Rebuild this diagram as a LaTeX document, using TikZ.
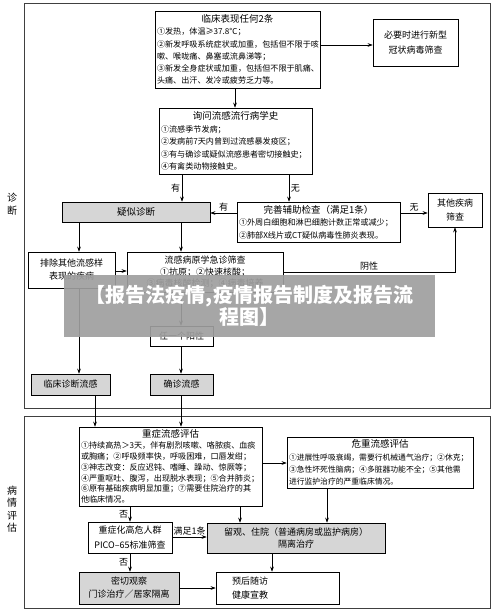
\documentclass[tikz,border=0pt]{standalone}
\usepackage{fontspec}
\setmainfont{Noto Sans CJK SC}
\usepackage{tikz}
\usetikzlibrary{arrows.meta}

\newcommand{\headline}[1]{{\fontsize{9.5}{12.3}\selectfont\hfill #1\hfill\null}\\}

\tikzset{
	box/.style={draw, inner sep=1.5pt, align=center, font=\fontsize{9}{12.5}\selectfont},
	greybox/.style={box, fill=black!16},
	listbox/.style={draw, inner xsep=2pt, inner ysep=0pt, align=left, font=\fontsize{8.1}{12.3}\selectfont},
	lbl/.style={inner sep=1.5pt, font=\fontsize{9}{10}\selectfont},
	side/.style={align=center, font=\fontsize{10}{12.5}\selectfont},
	frame/.style={draw=black!75, line width=0.8pt},
	banner/.style={fill=black!38, fill opacity=0.92, text=white, text opacity=1, align=center,
		minimum width=371pt, minimum height=62pt, font=\bfseries\fontsize{20}{22}\selectfont},
}

\begin{document}
\begin{tikzpicture}[x=1pt, y=-1pt, line width=0.6pt, >={Stealth[length=5pt,width=3.6pt]}]
	\useasboundingbox (0,0) rectangle (500,612);
	\draw[frame] (24,3) rectangle (490,408);
	\draw[frame] (24,416) rectangle (490,608);
	\node[side] at (12,204) (diag) {诊\\断};
	\node[side] at (12,509) (eval) {病\\情\\评\\估};

	% diagnosis
	\node[listbox, text width=161pt, minimum height=77pt] at (237.5,49.5) (clin) {\headline{临床表现任何2条}①发热，体温≥37.8℃；\\②新发呼吸系统症状或加重，包括但不限于咳\\嗽、喉咙痛、鼻塞或流鼻涕等；\\③新发全身症状或加重，包括但不限于肌痛、\\头痛、出汗、发冷或疲劳乏力等。};
	\node[box, font=\fontsize{9}{15}\selectfont, minimum width=85pt, minimum height=47pt] at (415.5,42.5) (screen) {必要时进行新型\\冠状病毒筛查};
	\node[listbox, text width=149pt, minimum height=66pt, font=\fontsize{8.1}{12.4}\selectfont] at (235.5,141) (hist) {\headline{询问流感流行病学史}①流感季节发病；\\②发病前7天内曾到过流感暴发疫区；\\③有与确诊或疑似流感患者密切接触史；\\④有禽类动物接触史。};
	\node[greybox, font=\fontsize{9.5}{12}\selectfont, minimum width=148pt, minimum height=20pt] at (136,212) (suspect) {疑似诊断};
	\node[listbox, text width=159pt, minimum height=40pt] at (318.5,222) (aux) {\headline{完善辅助检查（满足1条）}①外周白细胞和淋巴细胞计数正常或减少；\\②肺部X线片或CT疑似病毒性肺炎表现。};
	\node[box, font=\fontsize{9}{14}\selectfont, minimum width=54pt, minimum height=34pt] at (455,210) (other) {其他疾病\\筛查};
	\node[box, font=\fontsize{9}{13}\selectfont, minimum width=87pt, minimum height=36pt] at (71.5,270) (exclude) {排除其他流感样\\表现的疾病};
	\node[box, font=\fontsize{9}{11.5}\selectfont, minimum width=156pt, minimum height=40pt] at (205,272) (pathogen) {流感病原学急诊筛查\\①抗原；②快速核酸；\\③病毒核酸检测；④病毒培养};
	\node[box, minimum width=63pt, minimum height=20pt] at (181.5,336) (positive) {任一个阳性};
	\node[greybox, minimum width=63pt, minimum height=21pt] at (181.5,384.5) (confirmed) {确诊流感};
	\node[greybox, minimum width=79pt, minimum height=21pt] at (70.5,384.5) (clinical) {临床诊断流感};

	% severity assessment
	\node[listbox, text width=179pt, minimum height=79pt, font=\fontsize{8.1}{10.9}\selectfont] at (170.5,466.5) (severe) {\headline{重症流感评估}①持续高热＞3天，伴有剧烈咳嗽、咯脓痰、血痰\\或胸痛；②呼吸频率快，呼吸困难，口唇发绀；\\③神志改变：反应迟钝、嗜睡、躁动、惊厥等；\\④严重呕吐、腹泻，出现脱水表现；⑤合并肺炎；\\⑥原有基础疾病明显加重；⑦需要住院治疗的其\\他临床情况。};
	\node[listbox, text width=182pt, minimum height=51pt, font=\fontsize{7.8}{12.2}\selectfont] at (380,462.5) (critical) {\headline{危重流感评估}①进展性呼吸衰竭，需要行机械通气治疗；②休克；\\③急性坏死性脑病；④多脏器功能不全；⑤其他需\\进行监护治疗的严重临床情况。};
	\node[box, font=\fontsize{9}{15}\selectfont, minimum width=84pt, minimum height=31pt] at (130,537.5) (risk) {重症化高危人群\\PICO–65标准筛查};
	\node[greybox, font=\fontsize{9}{12}\selectfont, minimum width=178pt, minimum height=30pt] at (296,538) (admit) {留观、住院（普通病房或监护病房）\\隔离治疗};
	\node[greybox, font=\fontsize{9}{13}\selectfont, minimum width=100pt, minimum height=32pt] at (129,588) (observe) {密切观察\\门诊治疗／居家隔离};
	\node[box, align=left, font=\fontsize{9}{14}\selectfont, text width=91pt, inner xsep=16pt, minimum height=32pt] at (277.5,588) (follow) {预后随访\\健康宣教};

	\draw[->] (clin.east |- 0,45) -- (screen.west |- 0,45);
	\draw[->] (clin.south -| 235,0) -- (hist.north -| 235,0);
	\draw[->] (hist.south -| 182,0) -- (suspect.north -| 182,0) node[midway,left,lbl] {有};
	\draw[->] (hist.south -| 289,0) -- (aux.north -| 289,0) node[midway,right,lbl] {无};
	\draw[->] (aux.west |- 0,213) -- (suspect.east |- 0,213) node[midway,above,lbl] {有};
	\draw[->] (aux.east |- 0,213) -- (other.west |- 0,213) node[midway,above,lbl] {无};
	\draw[->] (suspect.south -| 79,0) -- (exclude.north -| 79,0);
	\draw[->] (suspect.south -| 181,0) -- (pathogen.north -| 181,0);
	\draw[->] (exclude.east |- 0,271) -- (pathogen.west |- 0,271);
	\draw[->] (pathogen.east |- 0,272) -| (other.south) node[pos=0.25,above,lbl] {阴性};
	\draw[->] (pathogen.south -| 181,0) -- (positive.north -| 181,0);
	\draw[->] (positive.south -| 181,0) -- (confirmed.north -| 181,0);
	\draw[->] (exclude.south -| 79,0) -- (clinical.north -| 79,0);
	\draw[->] (clinical.south -| 95,0) -- (severe.north -| 95,0);
	\draw[->] (confirmed.south -| 181,0) -- (severe.north -| 181,0);
	\draw[->] (severe.east |- 0,463) -- (critical.west |- 0,463);
	\draw[->] (severe.south -| 130,0) -- (risk.north -| 130,0) node[midway,left,lbl] {否};
	\draw[->] (severe.south -| 240,0) -- (admit.north -| 240,0);
	\draw[->] (critical.south -| 327,0) -- (admit.north -| 327,0);
	\draw[->] (risk.east |- 0,537) -- (admit.west |- 0,537) node[midway,above,lbl] {满足1条};
	\draw[->] (risk.south -| 130,0) -- (observe.north -| 130,0) node[midway,left,lbl] {否};
	\draw[->] (observe.east |- 0,588) -- (follow.west |- 0,588);
	\draw[->] (admit.south -| 272,0) -- (follow.north -| 272,0);

	%\node[banner] ...
	\node[banner] at (249.5,306) (title) {【报告法疫情,疫情报告制度及报告流\\程图】};
\end{tikzpicture}
\end{document}
